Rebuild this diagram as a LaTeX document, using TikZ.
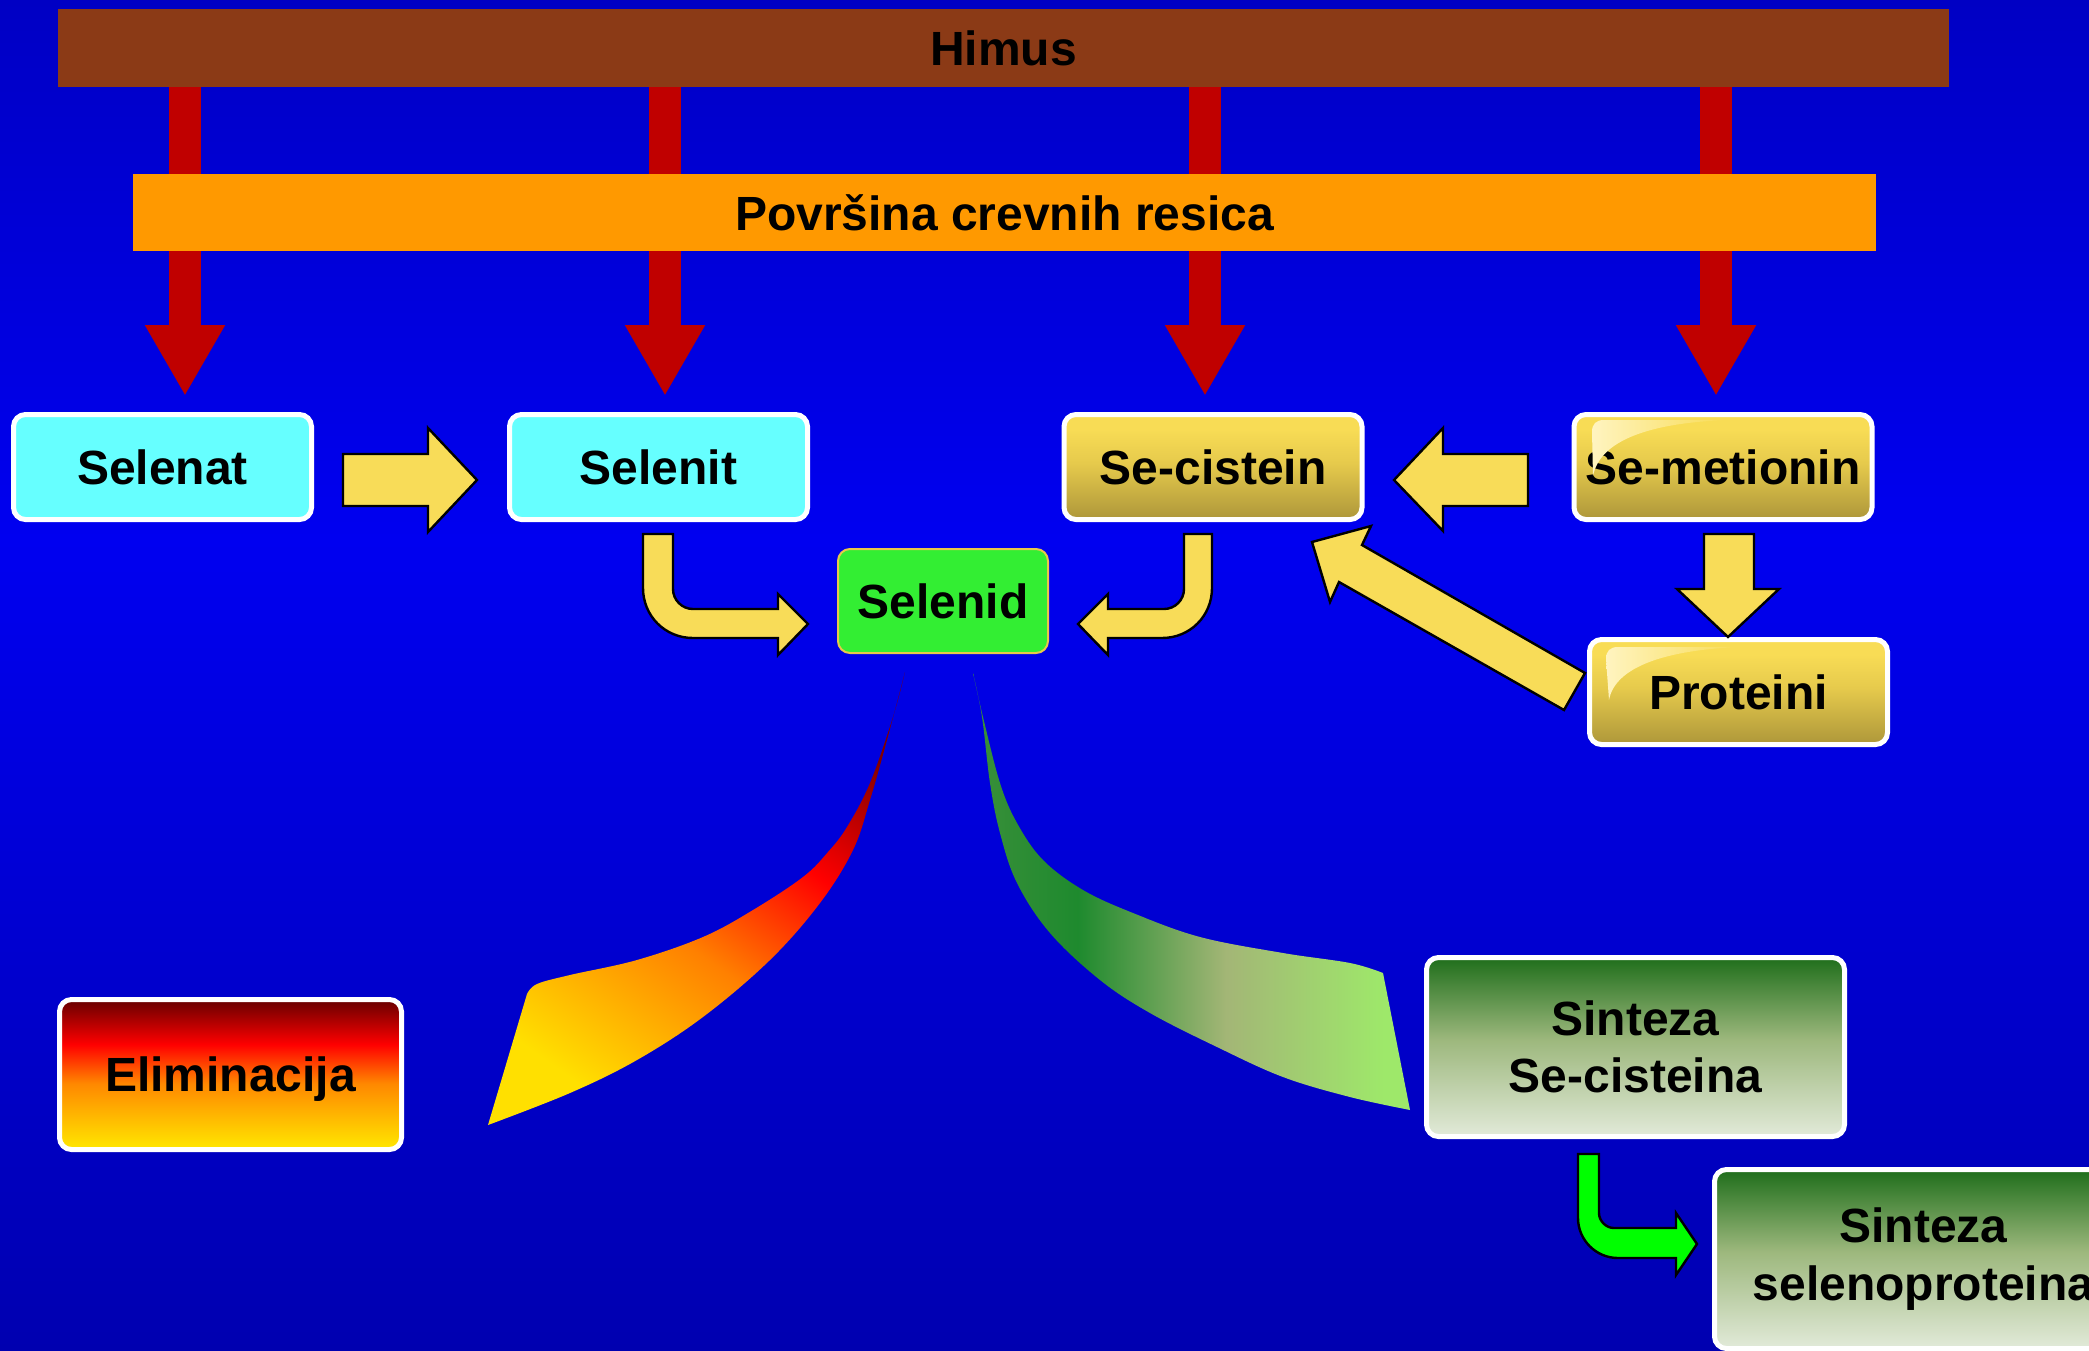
\documentclass[tikz,border=0pt]{standalone}
\usepackage{fontspec}
\setmainfont{Liberation Sans}
\usetikzlibrary{arrows.meta}
\definecolor{bgtop}{HTML}{0000C4}
\definecolor{bgmid}{HTML}{0000F0}
\definecolor{bgbot}{HTML}{0000B0}
\definecolor{himusc}{HTML}{8B3A16}
\definecolor{povrsc}{HTML}{FF9900}
\definecolor{redarr}{HTML}{C00000}
\definecolor{cyanbox}{HTML}{66FFFF}
\definecolor{goldA}{HTML}{F8DC55}
\definecolor{goldB}{HTML}{E6CA4C}
\definecolor{goldC}{HTML}{AE973A}
\definecolor{glossc}{HTML}{FFF4C0}
\definecolor{yarr}{HTML}{F8DC58}
\definecolor{selenidc}{HTML}{33EE33}
\definecolor{selenidb}{HTML}{E8C84A}
\definecolor{elA}{HTML}{660000}
\definecolor{elB}{HTML}{FF0000}
\definecolor{elC}{HTML}{FF8800}
\definecolor{elD}{HTML}{FFE800}
\definecolor{siA}{HTML}{1F6E1B}
\definecolor{siB}{HTML}{9DB87D}
\definecolor{siC}{HTML}{E2EAD9}
\definecolor{garr}{HTML}{00FF00}
\definecolor{rfA}{HTML}{800000}
\definecolor{rfB}{HTML}{FF0000}
\definecolor{rfC}{HTML}{FF8000}
\definecolor{rfD}{HTML}{FFE000}
\definecolor{gfT}{HTML}{3A8F3A}
\definecolor{gfA}{HTML}{1E8A2E}
\definecolor{gfB}{HTML}{A3B676}
\definecolor{gfC}{HTML}{9EE86A}
\pgfdeclareverticalshading{bgshade}{100bp}{color(0bp)=(bgbot); color(25bp)=(bgbot); color(55bp)=(bgmid); color(75bp)=(bgtop); color(100bp)=(bgtop)}
\pgfdeclareverticalshading{goldshade}{100bp}{color(0bp)=(goldC); color(25bp)=(goldC); color(52bp)=(goldB); color(68bp)=(goldA); color(100bp)=(goldA)}
\pgfdeclareverticalshading{elimshade}{100bp}{color(0bp)=(elD); color(25bp)=(elD); color(47bp)=(elC); color(60bp)=(elB); color(75bp)=(elA); color(100bp)=(elA)}
\pgfdeclareverticalshading{sintshade}{100bp}{color(0bp)=(siC); color(25bp)=(siC); color(52bp)=(siB); color(75bp)=(siA); color(100bp)=(siA)}
\pgfdeclareverticalshading{redfanshade}{100bp}{color(0bp)=(rfD); color(25bp)=(rfD); color(45bp)=(rfC); color(60bp)=(rfB); color(75bp)=(rfA); color(100bp)=(rfA)}
\pgfdeclarehorizontalshading{greenfanshade}{100bp}{color(0bp)=(gfT); color(25bp)=(gfT); color(37bp)=(gfA); color(54bp)=(gfB); color(72bp)=(gfC); color(100bp)=(gfC)}
\newcommand{\boxfont}{\fontsize{24}{28.8}\selectfont\bfseries}
\tikzset{
  box/.style={rounded corners=6pt, draw=white, line width=2.5pt, minimum width=149pt, minimum height=52.5pt, inner sep=0pt, font=\boxfont, text=black},
  bar/.style={inner sep=0pt, font=\boxfont, text=black},
  yarrow/.style={fill=yarr, draw=black, line width=1.2pt, line join=miter},
  garrow/.style={fill=garr, draw=black, line width=1.2pt, line join=miter},
  redarrow/.style={draw=redarr, line width=16pt, -{Triangle[length=35.5pt,width=37.5pt]}, shorten >=8pt},
  gloss/.style={left color=glossc, right color=goldA, draw=none}
}
\begin{document}
\begin{tikzpicture}[x=0.5pt,y=-0.5pt]
\useasboundingbox (0,0) rectangle (2089,1350);
\clip (0,0) rectangle (2089,1350);
\shade[shading=bgshade] (0,0) rectangle (2089,1350);

% boxes
\node[bar, fill=himusc, minimum width=945.5pt, minimum height=39pt] (himus) at (1003.5,48) {Himus};
\node[box, fill=cyanbox] (selenat) at (162.5,467) {Selenat};
\node[box, fill=cyanbox] (selenit) at (658.5,467) {Selenit};
\node[box, shading=goldshade] (secistein) at (1213,467) {Se-cistein};
\node[box, shading=goldshade] (semetionin) at (1723,467) {Se-metionin};
\node[box, shading=goldshade] (proteini) at (1738.5,692) {Proteini};

% red arrows through the villi surface
\foreach \ax/\tg in {185/selenat, 665/selenit, 1205/secistein, 1716/semetionin}
  \draw[redarrow] (\ax,0 |- himus.south) -- (\ax,0 |- \tg.north);

\node[bar, fill=povrsc, minimum width=871.5pt, minimum height=38.5pt] (povrsina) at (1004.5,212.5) {Površina crevnih resica};

% gloss highlights
\path[gloss] (1592,432) .. controls (1592,424) and (1596,420) .. (1604,420) -- (1727,420) .. controls (1650,423) and (1600,440) .. (1593,476) -- cycle;
\path[gloss] (1606,659) .. controls (1606,651) and (1610,647) .. (1618,647) -- (1740,647) .. controls (1665,650) and (1615,667) .. (1609,700) -- cycle;

\node[box, draw=selenidb, line width=1pt, fill=selenidc, minimum width=105pt, minimum height=52pt] (selenid) at (943,601) {Selenid};
\node[box, shading=elimshade, minimum width=171pt, minimum height=75pt] (elim) at (230.5,1074.5) {\smash{\raisebox{-8.5pt}{Eliminacija}}};
\node[box, shading=sintshade, minimum width=209pt, minimum height=89.5pt, align=center] (sint1) at (1635.5,1047) {Sinteza\\Se-cisteina};
\node[box, shading=sintshade, minimum width=209pt, minimum height=89.5pt, align=center] (sint2) at (1923.5,1259) {Sinteza\\selenoproteina};

% yellow block arrows
\path[yarrow] (343,454) -- (428,454) -- (428,428) -- (477,480) -- (428,532) -- (428,506) -- (343,506) -- cycle;
\path[yarrow] (1528,454) -- (1443,454) -- (1443,428) -- (1394,480) -- (1443,531) -- (1443,506) -- (1528,506) -- cycle;
\path[yarrow] (1704,534) -- (1754,534) -- (1754,589) -- (1779,589) -- (1728,637) -- (1677,589) -- (1704,589) -- cycle;
\path[yarrow] (1585,673) -- (1362,545) -- (1371,526) -- (1312,542) -- (1330,602) -- (1339,582) -- (1564,710) -- cycle;
\path[yarrow] (643,534) -- (673,534) -- (673,589) .. controls (673,600) and (682,609) .. (693,609) -- (778,609) -- (778,594) -- (808,624) -- (778,655) -- (778,638) -- (693,638) .. controls (665,638) and (643,616) .. (643,588) -- cycle;
\path[yarrow] (1212,534) -- (1184,534) -- (1184,589) .. controls (1184,600) and (1175,609) .. (1164,609) -- (1108,609) -- (1108,594) -- (1078,624) -- (1108,655) -- (1108,638) -- (1162,638) .. controls (1190,638) and (1212,616) .. (1212,588) -- cycle;

% green bent arrow
\path[garrow] (1578,1154) -- (1599,1154) -- (1599,1213) .. controls (1599,1221) and (1606,1228) .. (1614,1228) -- (1676,1228) -- (1676,1213) -- (1697,1244) -- (1676,1275) -- (1676,1258) -- (1618,1258) .. controls (1596,1258) and (1578,1240) .. (1578,1218) -- cycle;

% fans
\shade[shading=redfanshade, shading angle=-35]
  plot[smooth, tension=0.6] coordinates {(905,672) (893,717) (870,783) (847,827) (828,852) (803,877) (753,910) (703,937) (637,960) (570,975) (537,984) (527,994)}
  -- plot[smooth, tension=0.6] coordinates {(488,1125) (570,1093) (637,1060) (703,1017) (770,960) (820,903) (853,850) (870,800) (887,740) (905,672)}
  -- cycle;
\shade[shading=greenfanshade]
  plot[smooth, tension=0.6] coordinates {(973,673) (983,717) (1000,783) (1017,823) (1043,860) (1083,890) (1133,913) (1200,937) (1283,953) (1350,963) (1383,973)}
  -- plot[smooth, tension=0.6] coordinates {(1410,1110) (1350,1097) (1283,1077) (1217,1047) (1150,1013) (1100,980) (1050,933) (1017,883) (1000,833) (990,783) (982,717) (973,673)}
  -- cycle;
\end{tikzpicture}
\end{document}
